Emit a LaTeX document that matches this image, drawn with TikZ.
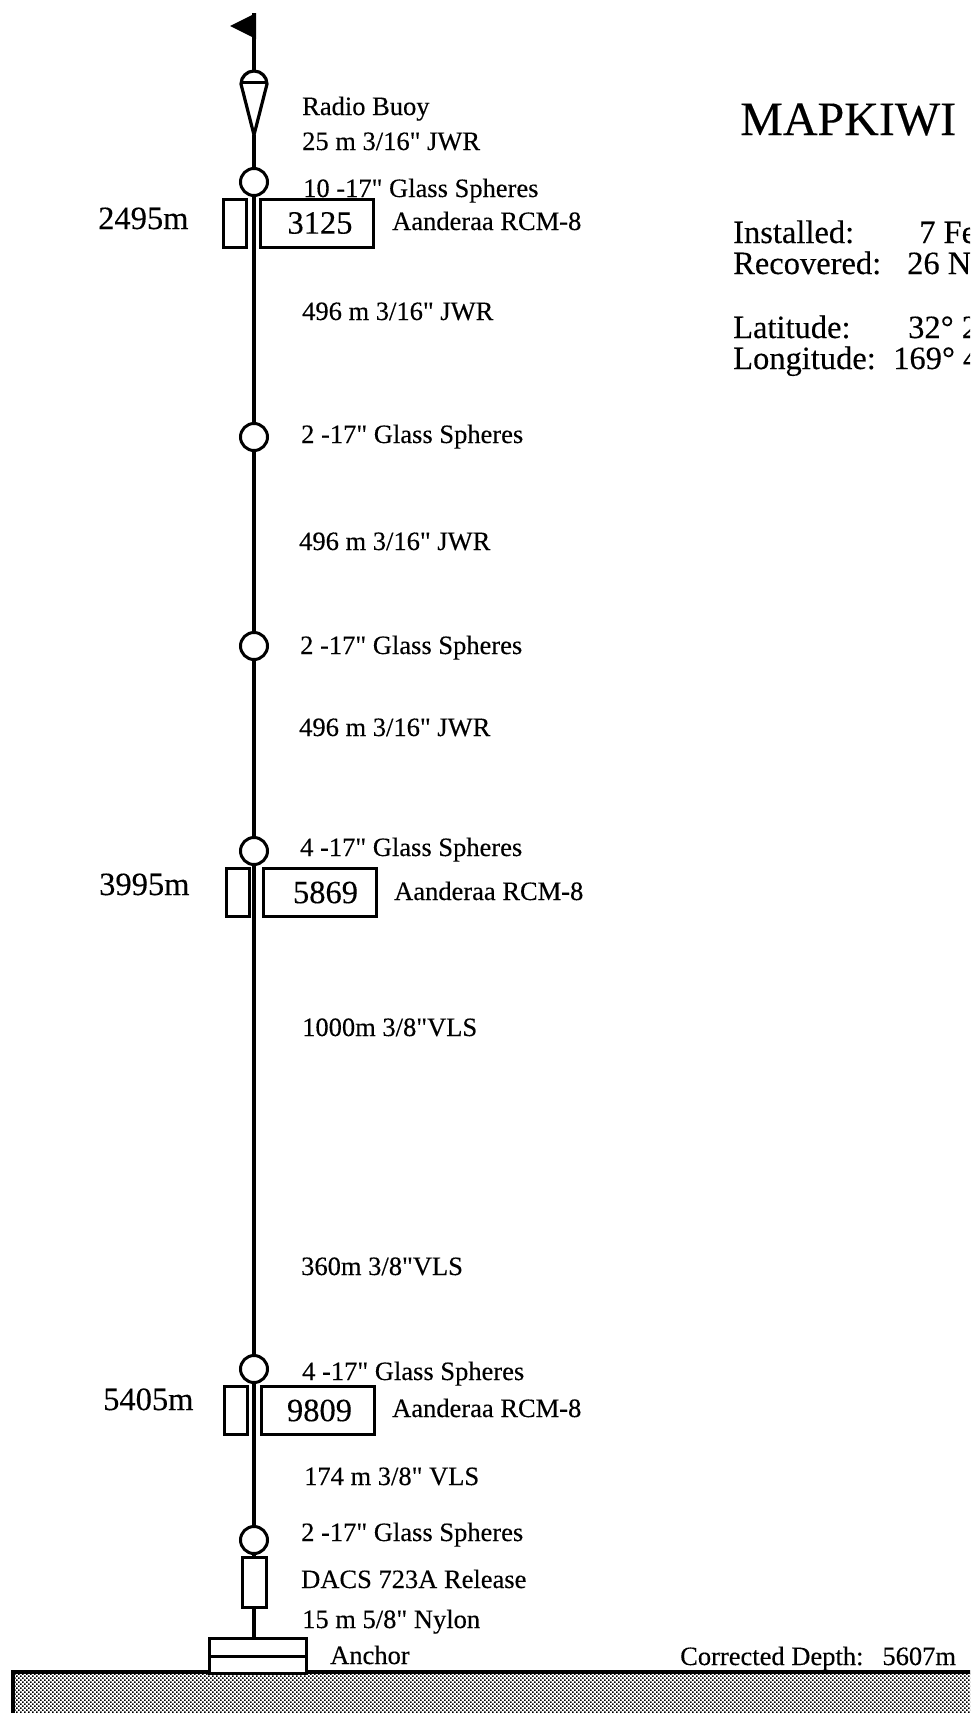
\documentclass[tikz,border=0pt]{standalone}
\usepackage{fontspec}
\setmainfont[Ligatures=TeXOff, FakeBold=0.25]{Liberation Serif}
\usetikzlibrary{positioning, patterns}

\pgfdeclarepatternformonly{seabed}{\pgfqpoint{-1pt}{-1pt}}{\pgfqpoint{5pt}{5pt}}{\pgfqpoint{4pt}{4pt}}{
  \pgfpathrectangle{\pgfqpoint{0pt}{0pt}}{\pgfqpoint{1.7pt}{1.7pt}}
  \pgfpathrectangle{\pgfqpoint{2pt}{2pt}}{\pgfqpoint{1.7pt}{1.7pt}}
  \pgfusepath{fill}
}

\begin{document}
\begin{tikzpicture}[
  x=1pt, y=-1pt, on grid,
  every node/.style={inner sep=0pt},
  lbl/.style={anchor=base west, font=\fontsize{26.5}{26.5}\selectfont},
  big/.style={anchor=base west, font=\fontsize{32.5}{32.5}\selectfont},
  sphere/.style={circle, draw, fill=white, line width=3pt, minimum size=27pt},
  meter/.style={rectangle, draw, fill=white, line width=3pt, minimum width=113pt, minimum height=48pt,
    font=\fontsize{32.5}{32.5}\selectfont},
  vane/.style={rectangle, draw, fill=white, line width=3pt, minimum width=23pt, minimum height=48pt},
  wire/.style={line width=3.2pt}
]
  \clip (0,0) rectangle (970,1713);

  % sea floor
  \fill[white] (0,0) rectangle (970,1713);
  \draw[line width=4pt, pattern=seabed, pattern color=black] (13,1672) rectangle (990,1740);

  % surface float
  \coordinate (flagtop) at (254,13);
  \coordinate (buoytop) at (254,72);
  \coordinate (buoytip) at (254,135);
  \fill (flagtop) ++(2,0) -- (230,26) -- (256,39) -- cycle;
  \draw[wire] (flagtop) -- (buoytop);
  \draw[wire, fill=white, line join=round] (241,84) arc[start angle=180, end angle=360, radius=13] -- (buoytip) -- cycle;
  \draw[line width=3pt] (242,82) -- (266,82);

  % floats, on the line
  \node[sphere] (sph1) at (254,182) {};
  \node[sphere, below=255pt of sph1] (sph2) {};
  \node[sphere, below=209pt of sph2] (sph3) {};
  \node[sphere, below=205pt of sph3] (sph4) {};
  \node[sphere, below=518pt of sph4] (sph5) {};
  \node[sphere, below=171pt of sph5] (sph6) {};

  % release and anchor
  \node[vane, minimum width=24pt, minimum height=50pt] (rel) at (254,1582) {};
  \node[rectangle, draw, fill=white, line width=3pt, minimum width=97pt, minimum height=18pt] (anc1) at (257.5,1647) {};
  \node[rectangle, draw, fill=white, line width=3pt, minimum width=97pt, minimum height=17pt] (anc2) at (257.5,1664.5) {};

  \draw[wire] (buoytip) -- (sph1);
  \draw[wire] (sph1) -- (sph2);
  \draw[wire] (sph2) -- (sph3);
  \draw[wire] (sph3) -- (sph4);
  \draw[wire] (sph4) -- (sph5);
  \draw[wire] (sph5) -- (sph6);
  \draw[wire] (sph6) -- (rel);
  \draw[wire] (rel) -- (rel |- anc1.north);

  % current meters
  \node[vane] (vane1) at (234.5,223.5) {};
  \node[meter] (rcm1) at (317,223) {\hspace{6pt}3125};
  \node[vane] (vane2) at (238,892) {};
  \node[meter] (rcm2) at (320,892.5) {\hspace{11pt}5869};
  \node[vane] (vane3) at (236,1410) {};
  \node[meter] (rcm3) at (317.5,1410.5) {\hspace{4pt}9809};

  % depths
  \node[big] (dep1) at (98,229) {2495m};
  \node[big] (dep2) at (99,895) {3995m};
  \node[big] (dep3) at (103,1410) {5405m};

  % labels along the line
  \node[lbl] (buoylbl) at (302,115) {Radio Buoy};
  \node[lbl] (jwr0) at (302,150) {25 m 3/16" JWR};
  \node[lbl] (gls1) at (303,197) {10 -17" Glass Spheres};
  \node[lbl] (aan1) at (392,230) {Aanderaa RCM-8};
  \node[lbl] (jwr1) at (302,320) {496 m 3/16" JWR};
  \node[lbl] (gls2) at (301,443) {2 -17" Glass Spheres};
  \node[lbl] (jwr2) at (299,550) {496 m 3/16" JWR};
  \node[lbl] (gls3) at (300,654) {2 -17" Glass Spheres};
  \node[lbl] (jwr3) at (299,736) {496 m 3/16" JWR};
  \node[lbl] (gls4) at (300,856) {4 -17" Glass Spheres};
  \node[lbl] (aan2) at (394,900) {Aanderaa RCM-8};
  \node[lbl] (vls1) at (302,1036) {1000m 3/8"VLS};
  \node[lbl] (vls2) at (301,1275) {360m 3/8"VLS};
  \node[lbl] (gls5) at (302,1380) {4 -17" Glass Spheres};
  \node[lbl] (aan3) at (392,1417) {Aanderaa RCM-8};
  \node[lbl] (vls3) at (304,1485) {174 m 3/8" VLS};
  \node[lbl] (gls6) at (301,1541) {2 -17" Glass Spheres};
  \node[lbl] (dacs) at (301,1588) {DACS 723A Release};
  \node[lbl] (nyl) at (302,1628) {15 m 5/8" Nylon};
  \node[lbl] (anclbl) at (330,1664) {Anchor};
  \node[lbl] (depth) at (680,1665) {Corrected Depth:\hspace{19pt}5607m};

  % mooring data
  \node[anchor=base west, font=\fontsize{48}{48}\selectfont] (title) at (740,135) {MAPKIWI};
  \node[big] (inst) at (733,243) {Installed:};
  \node[big] (instv) at (919,243) {7 Fe};
  \node[big] (reco) at (733,274) {Recovered:};
  \node[big] (recov) at (907,274) {26 N};
  \node[big] (lat) at (733,338) {Latitude:};
  \node[big] (latv) at (908,338) {32° 2};
  \node[big] (lon) at (733,369) {Longitude:};
  \node[big] (lonv) at (893,369) {169° 4};
\end{tikzpicture}
\end{document}
